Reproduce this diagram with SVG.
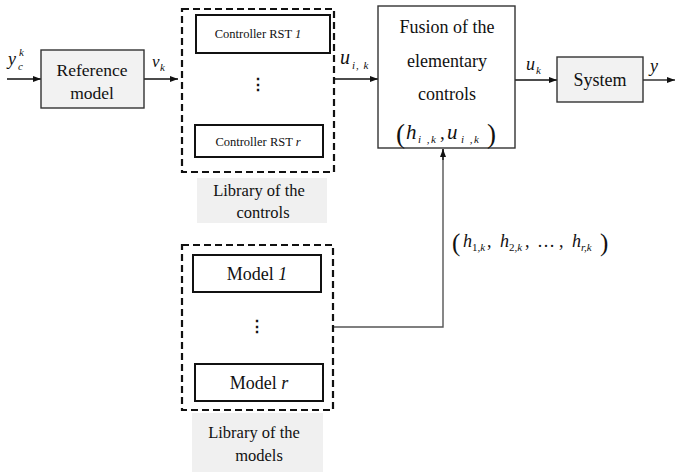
<svg xmlns="http://www.w3.org/2000/svg" width="676" height="472" viewBox="0 0 676 472" font-family="'Liberation Serif', 'Times New Roman', 'DejaVu Serif', serif">
<style>
text{font-family:'Liberation Serif','Times New Roman','DejaVu Serif',serif;fill:#111}
.blk{fill:#f2f2f2;stroke:#333;stroke-width:1.4}
.plain{fill:#fff;stroke:#333;stroke-width:1.4}
.inner{fill:#fff;stroke:#111;stroke-width:2}
.dash{fill:none;stroke:#111;stroke-width:2.2;stroke-dasharray:7,4}
.lab{fill:#f0f0f0;stroke:none}
.conn{fill:none;stroke:#111;stroke-width:1.3}
.gconn{fill:none;stroke:#555;stroke-width:1.4}
.m{font-style:italic}
.c{text-anchor:middle}
.sub{font-size:11px;font-style:italic}
</style>
<defs>
<marker id="ah" markerWidth="8" markerHeight="6" refX="8" refY="3" orient="auto" markerUnits="userSpaceOnUse">
<path d="M0,0 L8,3 L0,6 Z" fill="#111"/>
</marker>
</defs>

<g id="connectors">
<line class="conn" x1="7" y1="79" x2="41" y2="79" marker-end="url(#ah)"/>
<line class="conn" x1="144" y1="79" x2="178" y2="79" marker-end="url(#ah)"/>
<line class="conn" x1="334" y1="79" x2="378" y2="79" marker-end="url(#ah)"/>
<line class="conn" x1="515" y1="80" x2="557" y2="80" marker-end="url(#ah)"/>
<line class="conn" x1="643" y1="80" x2="675" y2="80" marker-end="url(#ah)"/>
<polyline class="gconn" points="333,327 443,327 443,149"/>
<line class="conn" x1="443" y1="160" x2="443" y2="149" marker-end="url(#ah)"/>
<text class="m" x="8" y="65" font-size="18">y</text>
<text class="sub" x="18" y="70">c</text>
<text class="sub" x="19" y="56">k</text>
<text class="m" x="152" y="67" font-size="17">v</text>
<text class="sub" x="160" y="71">k</text>
<text class="m" x="340" y="64" font-size="20">u</text>
<text class="sub" x="352" y="69" letter-spacing="1">i, k</text>
<text class="m" x="526" y="70" font-size="18">u</text>
<text class="sub" x="536" y="74">k</text>
<text class="m" x="650" y="72" font-size="18">y</text>
<text x="452" y="251" font-size="25">(</text>
<text class="m" x="463" y="247" font-size="18">h</text>
<text class="sub" x="472" y="251"><tspan font-style="normal">1</tspan>,k</text>
<text x="487" y="247" font-size="18">,</text>
<text class="m" x="500" y="247" font-size="18">h</text>
<text class="sub" x="509" y="251"><tspan font-style="normal">2</tspan>,k</text>
<text x="525" y="247" font-size="18">,</text>
<text x="537" y="247" font-size="18">…</text>
<text x="559" y="247" font-size="18">,</text>
<text class="m" x="572" y="247" font-size="18">h</text>
<text class="sub" x="581" y="251">r,k</text>
<text x="600" y="251" font-size="25">)</text>
</g>

<g id="reference-model">
<rect class="blk" x="41" y="50" width="103" height="58"/>
<text class="c" x="92" y="76" font-size="17.5">Reference</text>
<text class="c" x="92" y="99" font-size="17.5">model</text>
</g>

<g id="controllers-library">
<rect class="dash" x="182" y="9" width="152" height="163"/>
<g id="controller-1">
<rect class="inner" x="196" y="15" width="134" height="38"/>
<text class="c" x="258" y="38" font-size="12.5">Controller RST <tspan class="m">1</tspan></text>
</g>
<text class="c" x="258" y="90" font-size="16" font-weight="bold">⋮</text>
<g id="controller-r">
<rect class="inner" x="195" y="125" width="128" height="32"/>
<text class="c" x="258" y="146" font-size="12.5">Controller RST <tspan class="m">r</tspan></text>
</g>
<rect class="lab" x="197" y="178" width="130" height="45"/>
<text class="c" x="259" y="196" font-size="16.5">Library of the</text>
<text class="c" x="263" y="218" font-size="16.5">controls</text>
</g>

<g id="fusion">
<rect class="plain" x="378" y="6" width="137" height="142"/>
<text class="c" x="447" y="33" font-size="18">Fusion of the</text>
<text class="c" x="447" y="67" font-size="18">elementary</text>
<text class="c" x="447" y="100" font-size="18">controls</text>
<text x="396" y="143" font-size="27">(</text>
<text class="m" x="406" y="139" font-size="21">h</text>
<text class="sub" x="418" y="143" letter-spacing="1.5">i ,k</text>
<text x="440" y="139" font-size="19">,</text>
<text class="m" x="447" y="139" font-size="21">u</text>
<text class="sub" x="461" y="143" letter-spacing="1.5">i ,k</text>
<text x="487" y="143" font-size="27">)</text>
</g>

<g id="system">
<rect class="blk" x="557" y="57" width="86" height="45"/>
<text class="c" x="600" y="86" font-size="18">System</text>
</g>

<g id="models-library">
<rect class="dash" x="182" y="245" width="151" height="165"/>
<g id="model-1">
<rect class="inner" x="193" y="255" width="128" height="37"/>
<text class="c" x="257" y="280" font-size="18">Model <tspan class="m">1</tspan></text>
</g>
<text class="c" x="257" y="332" font-size="16" font-weight="bold">⋮</text>
<g id="model-r">
<rect class="inner" x="195" y="364" width="128" height="37"/>
<text class="c" x="259" y="389" font-size="18">Model <tspan class="m">r</tspan></text>
</g>
<rect class="lab" x="192" y="413" width="131" height="59"/>
<text class="c" x="254" y="438" font-size="16.5">Library of the</text>
<text class="c" x="259" y="461" font-size="16.5">models</text>
</g>
</svg>
